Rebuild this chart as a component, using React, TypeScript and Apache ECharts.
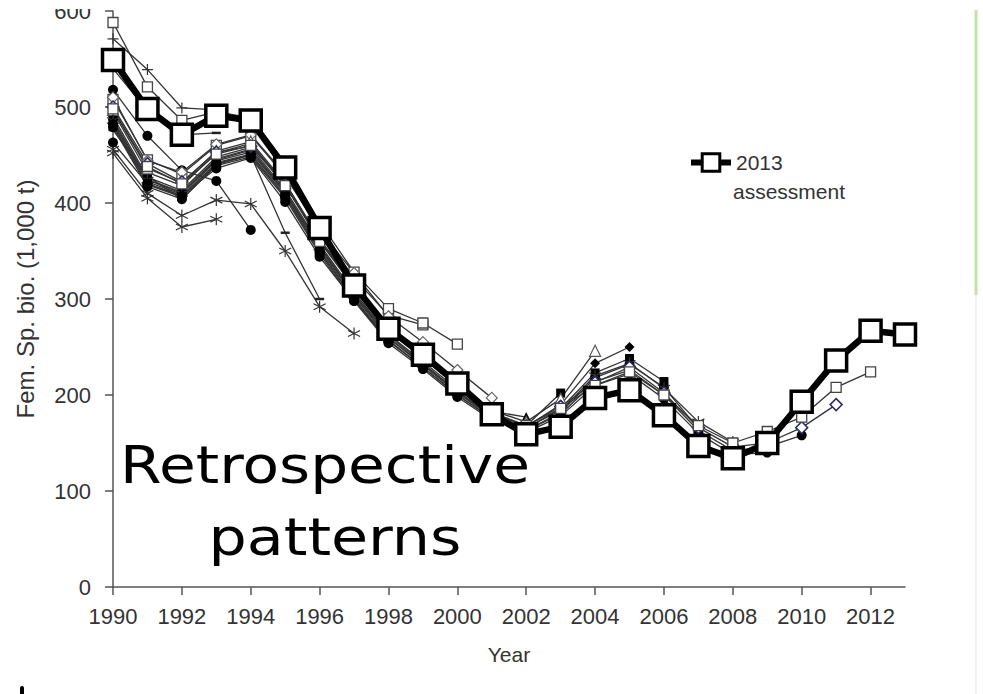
import React, { useEffect, useRef } from 'react';
import * as echarts from 'echarts';

const years = ['1990','1991','1992','1993','1994','1995','1996','1997','1998','1999','2000','2001','2002','2003','2004','2005','2006','2007','2008','2009','2010','2011','2012','2013'];

const assessment2013 = [549, 498, 471, 491, 486, 437, 374, 314, 269, 242, 212, 180, 159, 167, 197, 205, 179, 147, 134, 150, 193, 236, 267, 263];

const r1993a = [452, 405, 375, 383];
const r1993b = [540, 496, 471, 473];
const r1994a = [518, 470, 434, 423, 372];
const r1994b = [571, 539, 499, 497, 485];
const r1996 = [476, 428, 404, 440, 450, 369, 300];
const r1997 = [456, 410, 387, 403, 399, 350, 292, 264];
const r1998 = [463, 420, 408, 436, 447, 401, 344, 298, 256];
const r1999 = [508, 445, 430, 460, 470, 428, 372, 322, 283, 273];
const r2000 = [588, 521, 486, 495, 489, 442, 380, 328, 290, 275, 253];
const r2001 = [510, 444, 432, 461, 471, 430, 372, 327, 282, 255, 226, 197];
const r2002 = [495, 432, 418, 452, 462, 419, 361, 312, 267, 238, 209, 183, 177];
const r2003 = [490, 427, 413, 448, 458, 414, 357, 307, 263, 235, 206, 180, 168, 202];
const r2004 = [497, 436, 421, 454, 464, 421, 363, 313, 269, 240, 211, 184, 172, 196, 246];
const r2005 = [487, 425, 411, 446, 456, 412, 355, 305, 262, 233, 204, 179, 167, 190, 233, 250];
const r2006 = [484, 422, 409, 444, 453, 410, 352, 303, 259, 231, 202, 177, 165, 186, 223, 238, 214];
const r2007 = [481, 419, 406, 441, 450, 407, 349, 300, 256, 229, 200, 176, 163, 182, 218, 232, 208, 165];
const r2008 = [486, 424, 410, 445, 455, 411, 354, 304, 260, 232, 203, 178, 166, 184, 220, 233, 207, 172, 151];
const r2009 = [479, 417, 404, 439, 448, 405, 347, 298, 254, 227, 198, 174, 161, 178, 210, 222, 196, 160, 138, 140];
const r2010 = [482, 420, 407, 442, 451, 408, 350, 301, 257, 229, 200, 175, 163, 180, 214, 226, 200, 163, 142, 146, 158];
const r2011 = [500, 441, 422, 453, 459, 421, 362, 314, 270, 240, 210, 182, 168, 188, 213, 229, 202, 166, 146, 150, 166, 190];
const r2012 = [498, 438, 420, 451, 460, 418, 360, 312, 268, 239, 210, 182, 168, 186, 210, 224, 200, 168, 150, 162, 177, 208, 224];

const retro: [string, string, number[]][] = [
  ['1993a', 'star', r1993a],
  ['1993b', 'dash', r1993b],
  ['1994a', 'circle', r1994a],
  ['1994b', 'plus', r1994b],
  ['1996', 'dash', r1996],
  ['1997', 'star', r1997],
  ['1998', 'circle', r1998],
  ['1999', 'osquare', r1999],
  ['2000', 'osquare', r2000],
  ['2001', 'odiamond', r2001],
  ['2002', 'ftriangle', r2002],
  ['2003', 'fsquare', r2003],
  ['2004', 'otriangle', r2004],
  ['2005', 'fdiamond', r2005],
  ['2006', 'fsquare', r2006],
  ['2007', 'circle', r2007],
  ['2008', 'star', r2008],
  ['2009', 'circle', r2009],
  ['2010', 'circle', r2010],
  ['2011', 'ndiamond', r2011],
  ['2012', 'osquare', r2012],
];

const STAR = 'path://M0,-6L0,6M-5.2,-3L5.2,3M-5.2,3L5.2,-3';
const PLUS = 'path://M0,-5L0,5M-5,0L5,0';

function marker(kind: string): any {
  switch (kind) {
    case 'star': return { symbol: STAR, symbolSize: 12, itemStyle: { color: '#333', borderColor: '#333', borderWidth: 1.2 } };
    case 'plus': return { symbol: PLUS, symbolSize: 11, itemStyle: { color: '#333', borderColor: '#333', borderWidth: 1.2 } };
    case 'dash': return { symbol: 'rect', symbolSize: [9, 2.5], itemStyle: { color: '#222' } };
    case 'circle': return { symbol: 'circle', symbolSize: 10, itemStyle: { color: '#000' } };
    case 'fsquare': return { symbol: 'rect', symbolSize: 9, itemStyle: { color: '#000' } };
    case 'osquare': return { symbol: 'rect', symbolSize: 10, itemStyle: { color: '#fff', borderColor: '#444', borderWidth: 1.3 } };
    case 'odiamond': return { symbol: 'diamond', symbolSize: 11, itemStyle: { color: '#fff', borderColor: '#666', borderWidth: 1.2 } };
    case 'fdiamond': return { symbol: 'diamond', symbolSize: 10, itemStyle: { color: '#000' } };
    case 'ndiamond': return { symbol: 'diamond', symbolSize: 12, itemStyle: { color: '#fff', borderColor: '#2a2a66', borderWidth: 1.5 } };
    case 'ftriangle': return { symbol: 'triangle', symbolSize: 10, itemStyle: { color: '#000' } };
    case 'otriangle': return { symbol: 'triangle', symbolSize: 11, itemStyle: { color: '#fff', borderColor: '#555', borderWidth: 1.2 } };
    default: return { symbol: 'circle', symbolSize: 8, itemStyle: { color: '#000' } };
  }
}

const FONT = '"Liberation Sans", Arial, sans-serif';

export default function App() {
  const ref = useRef<HTMLDivElement>(null);
  useEffect(() => {
    if (!ref.current) return;
    const chart = echarts.init(ref.current, null, { renderer: 'svg' });
    const retroSeries = retro.map(([name, kind, data]) => ({
      type: 'line',
      name: 'Retro ' + name,
      data,
      showAllSymbol: true,
      silent: true,
      lineStyle: { color: '#333', width: 1.3 },
      ...marker(kind),
      z: 3,
    }));
    chart.setOption({
      animation: false,
      backgroundColor: '#fff',
      grid: { left: 113, right: 78, top: 11, bottom: 107, containLabel: false, outerBoundsMode: 'none' },
      legend: {
        show: true,
        data: ['2013 assessment'],
        left: 683,
        top: 147,
        itemWidth: 40,
        itemHeight: 22,
        formatter: () => '2013',
        textStyle: { fontSize: 21, color: '#333', fontFamily: FONT },
        lineStyle: { width: 6, color: '#000' },
        itemStyle: { color: '#fff', borderColor: '#000', borderWidth: 3 },
        selectedMode: false,
      },
      xAxis: {
        type: 'category',
        data: years,
        boundaryGap: false,
        name: 'Year',
        nameLocation: 'middle',
        nameGap: 57,
        nameTextStyle: { fontSize: 21, color: '#333', fontFamily: FONT },
        axisLine: { lineStyle: { color: '#555', width: 1.5 } },
        axisTick: { interval: 1, length: 8, lineStyle: { color: '#555', width: 1.5 } },
        axisLabel: { interval: 1, fontSize: 22, color: '#333', fontFamily: FONT, margin: 18 },
        splitLine: { show: false },
      },
      yAxis: {
        type: 'value',
        min: 0,
        max: 600,
        interval: 100,
        name: 'Fem. Sp. bio. (1,000 t)',
        nameLocation: 'middle',
        nameRotate: 90,
        nameGap: 76,
        nameTextStyle: { fontSize: 24, color: '#333', fontFamily: FONT },
        axisLine: { show: true, lineStyle: { color: '#555', width: 1.5 } },
        axisTick: { show: true, length: 8, lineStyle: { color: '#555', width: 1.5 } },
        axisLabel: { fontSize: 22, color: '#333', fontFamily: FONT, margin: 22 },
        splitLine: { show: false },
      },
      series: [
        ...retroSeries,
        {
          type: 'line',
          name: '2013 assessment',
          data: assessment2013,
          showAllSymbol: true,
          silent: true,
          symbol: 'rect',
          symbolSize: 21,
          lineStyle: { color: '#000', width: 6.5 },
          itemStyle: { color: '#fff', borderColor: '#000', borderWidth: 3.5 },
          z: 5,
        },
      ],
      graphic: [
        { type: 'rect', z: 100, shape: { x: 30, y: 0, width: 75, height: 9 }, style: { fill: '#fff' } },
        { type: 'text', z: 100, x: 733, y: 191, style: { text: 'assessment', fontSize: 21, fill: '#333', fontFamily: FONT, textAlign: 'left', textVerticalAlign: 'middle' } },
        { type: 'text', z: 100, x: 325, y: 465, scaleX: 1.15, style: { text: 'Retrospective', fontSize: 52, fill: '#000', fontFamily: '"Comic Sans MS", "DejaVu Sans", sans-serif', textAlign: 'center', textVerticalAlign: 'middle' } },
        { type: 'text', z: 100, x: 335, y: 537, scaleX: 1.16, style: { text: 'patterns', fontSize: 52, fill: '#000', fontFamily: '"Comic Sans MS", "DejaVu Sans", sans-serif', textAlign: 'center', textVerticalAlign: 'middle' } },
        { type: 'line', z: 100, shape: { x1: 22, y1: 688, x2: 22, y2: 700 }, style: { stroke: '#000', lineWidth: 4, lineCap: 'round' } },
        { type: 'line', z: 100, shape: { x1: 976, y1: 10, x2: 976, y2: 295 }, style: { stroke: '#bfe3a8', lineWidth: 3 } },
        { type: 'line', z: 100, shape: { x1: 976, y1: 295, x2: 976, y2: 694 }, style: { stroke: '#ececec', lineWidth: 1.5 } },
      ],
    });
    return () => chart.dispose();
  }, []);
  return <div ref={ref} style={{ position: 'fixed', left: 0, top: 0, width: 983, height: 694 }} />;
}
